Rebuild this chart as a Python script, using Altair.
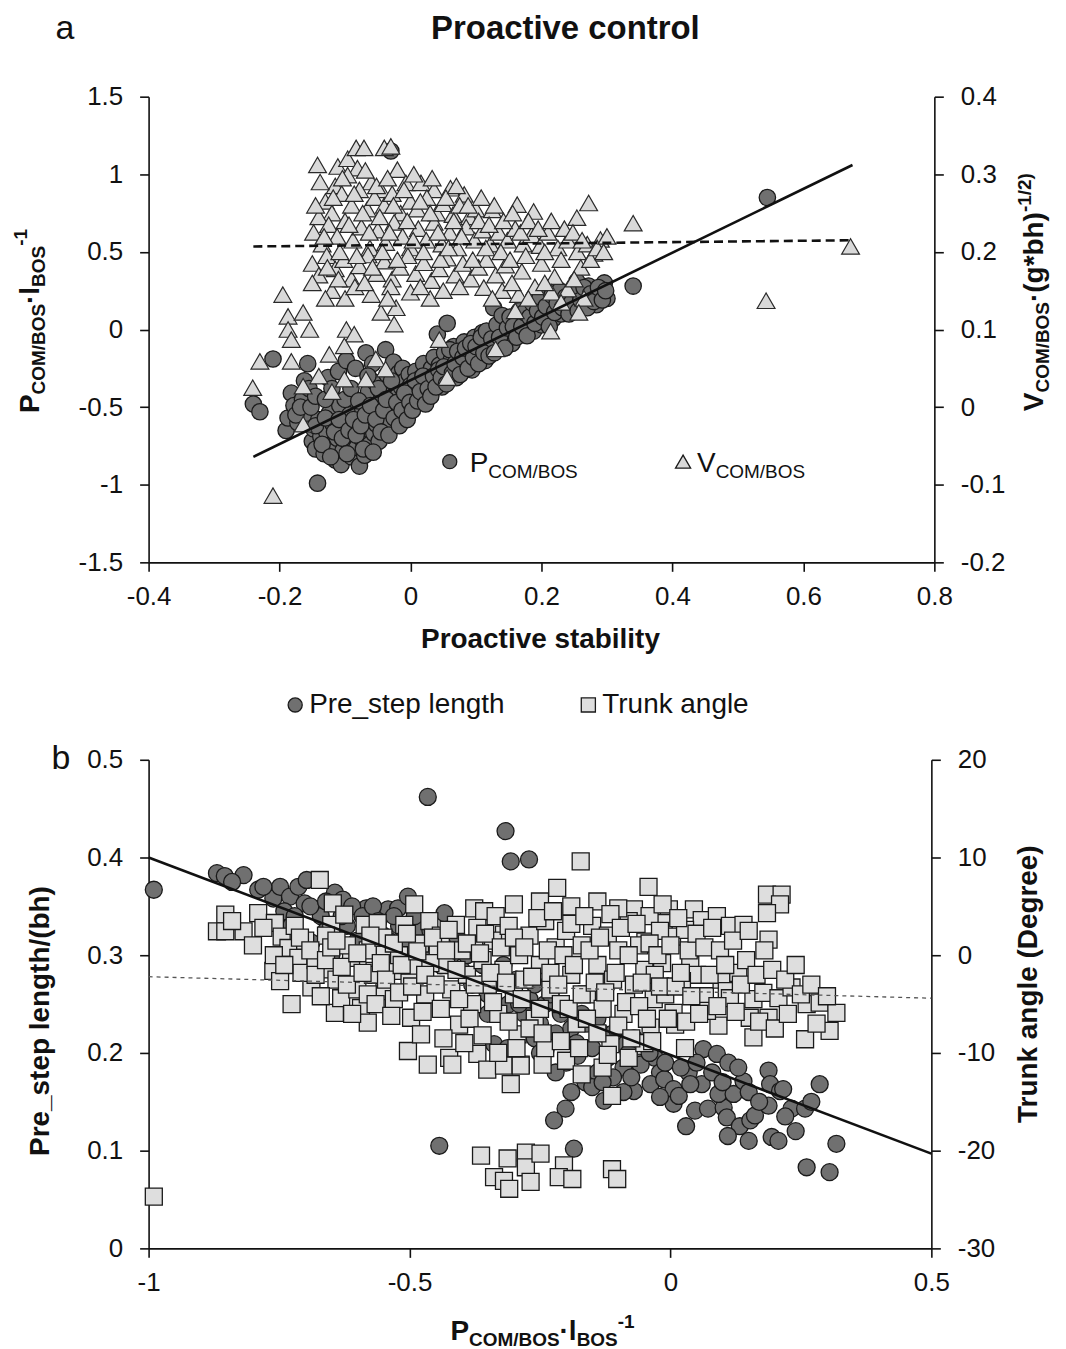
import altair as alt
import pandas as pd

FONT = "Liberation Sans"
INK = "#111111"
CIRC = "#707070"
TRI = "#d9d9d9"
SQR = "#dedede"
EDGE = "#1a1a1a"

# ---------------- data ----------------
title_text = "Proactive control"
a_xticks = [-0.4, -0.2, 0, 0.2, 0.4, 0.6, 0.8]
a_left_ticks = [-1.5, -1, -0.5, 0, 0.5, 1, 1.5]
a_right_ticks = [-0.2, -0.1, 0, 0.1, 0.2, 0.3, 0.4]
b_xticks = [-1, -0.5, 0, 0.5]
b_left_ticks = [0, 0.1, 0.2, 0.3, 0.4, 0.5]
b_right_ticks = [-30, -20, -10, 0, 10, 20]

# panel a: P_COM/BOS (left axis) vs proactive stability
pcom_pts = [
    (-0.24, -0.48), (-0.23, -0.53), (-0.21, -0.19), (-0.19, -0.65), (-0.187, -0.57), (-0.182, -0.41),
    (-0.178, -0.49), (-0.172, -0.60), (-0.165, -0.45), (-0.162, -0.33), (-0.157, -0.22), (-0.155, -0.38),
    (-0.16, -0.54), (-0.15, -0.72), (-0.148, -0.64), (-0.145, -0.77), (-0.142, -0.99), (-0.14, -0.58),
    (-0.137, -0.69), (-0.132, -0.80), (-0.128, -0.66), (-0.126, -0.31), (-0.124, -0.54), (-0.12, -0.74),
    (-0.118, -0.61), (-0.115, -0.84), (-0.112, -0.70), (-0.11, -0.27), (-0.108, -0.49), (-0.106, -0.87),
    (-0.103, -0.78), (-0.1, -0.63), (-0.098, -0.20), (-0.096, -0.72), (-0.093, -0.55), (-0.09, -0.82),
    (-0.088, -0.67), (-0.086, -0.45), (-0.084, -0.25), (-0.082, -0.76), (-0.08, -0.59), (-0.078, -0.88),
    (-0.075, -0.70), (-0.073, -0.51), (-0.07, -0.81), (-0.068, -0.15), (-0.066, -0.64), (-0.064, -0.40),
    (-0.062, -0.74), (-0.06, -0.57), (-0.058, -0.22), (-0.056, -0.67), (-0.054, -0.34), (-0.052, -0.61),
    (-0.05, -0.48), (-0.048, -0.72), (-0.046, -0.55), (-0.044, -0.42), (-0.042, -0.63), (-0.038, -0.13),
    (-0.036, -0.29), (-0.034, -0.51), (-0.032, -0.39), (-0.03, -0.60), (-0.028, -0.46), (-0.026, -0.21),
    (-0.024, -0.35), (-0.022, -0.54), (-0.02, -0.43), (-0.018, -0.28), (-0.016, -0.49), (-0.014, -0.37),
    (-0.012, -0.25), (-0.01, -0.44), (-0.008, -0.33), (-0.006, -0.52), (-0.004, -0.40), (-0.002, -0.29),
    (0.0, -0.36), (0.004, -0.45), (0.008, -0.27), (0.012, -0.38), (0.016, -0.31), (0.02, -0.22),
    (0.024, -0.41), (0.028, -0.33), (0.032, -0.25), (0.036, -0.18), (0.04, -0.30), (0.041, -0.03),
    (0.044, -0.23), (0.048, -0.37), (0.052, -0.15), (0.056, 0.04), (0.058, -0.27), (0.062, -0.20),
    (0.066, -0.11), (0.07, -0.31), (0.074, -0.17), (0.078, -0.24), (0.082, -0.08), (0.086, -0.19),
    (0.09, -0.13), (0.094, -0.26), (0.098, -0.05), (0.102, -0.16), (0.106, -0.10), (0.11, -0.02),
    (0.114, -0.20), (0.118, -0.08), (0.122, -0.13), (0.127, 0.14), (0.13, -0.04), (0.134, -0.11),
    (0.138, 0.02), (0.142, -0.07), (0.146, 0.06), (0.15, -0.02), (0.155, -0.09), (0.16, 0.04),
    (0.164, 0.10), (0.168, -0.03), (0.172, 0.07), (0.176, 0.01), (0.18, 0.12), (0.184, 0.05),
    (0.188, -0.01), (0.192, 0.09), (0.196, 0.15), (0.2, 0.03), (0.205, 0.11), (0.21, 0.18),
    (0.214, 0.27), (0.218, 0.07), (0.222, 0.14), (0.226, 0.21), (0.23, 0.10), (0.235, 0.17),
    (0.24, 0.24), (0.245, 0.12), (0.25, 0.20), (0.254, 0.31), (0.258, 0.15), (0.262, 0.23),
    (0.268, 0.18), (0.272, 0.28), (0.278, 0.21), (0.284, 0.16), (0.29, 0.23), (0.296, 0.30),
    (0.30, 0.20), (0.34, 0.28), (0.545, 0.85), (-0.03, 1.15),
    (-0.175, -0.55), (-0.168, -0.50), (-0.152, -0.50), (-0.145, -0.43), (-0.13, -0.45), (-0.12, -0.38),
    (-0.145, -0.62), (-0.135, -0.74), (-0.13, -0.57), (-0.122, -0.82), (-0.116, -0.66), (-0.109, -0.58),
    (-0.104, -0.70), (-0.1, -0.45), (-0.097, -0.80), (-0.094, -0.65), (-0.091, -0.38), (-0.087, -0.58),
    (-0.083, -0.68), (-0.079, -0.46), (-0.076, -0.62), (-0.072, -0.77), (-0.069, -0.55), (-0.065, -0.30),
    (-0.061, -0.49), (-0.057, -0.79), (-0.053, -0.58), (-0.049, -0.38), (-0.045, -0.66), (-0.041, -0.52),
    (-0.037, -0.45), (-0.033, -0.68), (-0.029, -0.33), (-0.025, -0.57), (-0.021, -0.47), (-0.017, -0.62),
    (-0.013, -0.52), (-0.009, -0.41), (-0.005, -0.58), (-0.001, -0.47), (0.003, -0.52), (0.007, -0.33),
    (0.011, -0.46), (0.015, -0.40), (0.019, -0.30), (0.023, -0.48), (0.027, -0.38), (0.031, -0.43),
    (0.035, -0.30), (0.039, -0.37), (0.043, -0.26), (0.047, -0.31), (0.051, -0.24), (0.055, -0.35),
    (0.06, -0.13), (0.064, -0.28), (0.068, -0.22), (0.072, -0.14), (0.076, -0.29), (0.08, -0.18),
    (0.084, -0.12), (0.088, -0.25), (0.092, -0.09), (0.096, -0.18), (0.1, -0.11), (0.104, -0.22),
    (0.108, -0.05), (0.112, -0.15), (0.116, -0.01), (0.12, -0.17), (0.124, -0.06), (0.128, -0.15),
    (0.132, 0.03), (0.136, -0.05), (0.14, 0.09), (0.144, -0.12), (0.148, 0.01), (0.152, 0.08),
    (0.157, 0.02), (0.162, -0.05), (0.166, 0.12), (0.17, 0.02), (0.174, 0.11), (0.178, -0.04),
    (0.182, 0.08), (0.186, 0.17), (0.19, 0.04), (0.194, 0.12), (0.198, 0.21), (0.202, 0.08),
    (0.207, 0.15), (0.212, 0.02), (0.216, 0.22), (0.22, 0.11), (0.224, 0.17), (0.228, 0.25),
    (0.232, 0.14), (0.237, 0.21), (0.242, 0.10), (0.247, 0.18), (0.252, 0.26), (0.256, 0.12),
    (0.26, 0.19), (0.265, 0.27), (0.27, 0.14), (0.275, 0.23), (0.28, 0.18), (0.287, 0.27),
    (0.293, 0.19), (0.298, 0.25),
]

# panel a: V_COM/BOS (right axis)
vcom_pts = [
    (-0.142, 0.312), (-0.111, 0.31), (-0.096, 0.32), (-0.083, 0.334), (-0.071, 0.334), (-0.081, 0.308),
    (-0.096, 0.299), (-0.040, 0.334), (-0.030, 0.336), (-0.020, 0.306), (-0.007, 0.289), (0.016, 0.289),
    (0.036, 0.28), (0.061, 0.282), (0.082, 0.274), (-0.115, 0.285), (-0.06, 0.29), (-0.045, 0.28),
    (-0.13, 0.265), (-0.12, 0.25), (-0.105, 0.275), (-0.09, 0.26), (-0.078, 0.28), (-0.066, 0.255),
    (-0.055, 0.27), (-0.04, 0.26), (-0.028, 0.275), (-0.015, 0.25), (0.0, 0.265), (0.01, 0.255),
    (0.025, 0.27), (0.04, 0.25), (0.05, 0.262), (0.065, 0.248), (0.075, 0.26), (0.09, 0.245),
    (0.1, 0.255), (0.125, 0.254), (0.163, 0.261), (0.188, 0.252), (0.254, 0.244), (0.272, 0.263),
    (-0.14, 0.245), (-0.148, 0.225), (-0.135, 0.21), (-0.125, 0.235), (-0.112, 0.22), (-0.1, 0.24),
    (-0.088, 0.215), (-0.075, 0.232), (-0.062, 0.205), (-0.05, 0.228), (-0.038, 0.212), (-0.025, 0.238),
    (-0.012, 0.22), (0.0, 0.205), (0.012, 0.23), (0.024, 0.215), (0.036, 0.238), (0.048, 0.21),
    (0.06, 0.225), (0.072, 0.205), (0.085, 0.232), (0.098, 0.215), (0.11, 0.228), (0.122, 0.21),
    (0.135, 0.225), (0.148, 0.215), (0.16, 0.23), (0.172, 0.21), (0.185, 0.222), (0.198, 0.208),
    (0.21, 0.225), (0.225, 0.205), (0.24, 0.215), (0.255, 0.2), (0.27, 0.21), (0.29, 0.216),
    (0.28, 0.198), (0.34, 0.237), (-0.15, 0.185), (-0.14, 0.17), (-0.128, 0.195), (-0.115, 0.178),
    (-0.102, 0.19), (-0.09, 0.165), (-0.078, 0.182), (-0.065, 0.196), (-0.052, 0.172), (-0.04, 0.188),
    (-0.028, 0.165), (-0.016, 0.18), (-0.004, 0.195), (0.008, 0.172), (0.02, 0.186), (0.032, 0.163),
    (0.044, 0.178), (0.056, 0.192), (0.068, 0.17), (0.08, 0.185), (0.092, 0.165), (0.104, 0.18),
    (0.116, 0.19), (0.13, 0.17), (0.145, 0.183), (0.17, 0.175), (0.2, 0.185), (0.22, 0.168),
    (0.26, 0.18), (0.275, 0.19), (-0.12, 0.15), (-0.1, 0.14), (-0.085, 0.155), (-0.06, 0.145),
    (-0.03, 0.155), (0.0, 0.148), (0.03, 0.14), (0.112, 0.154), (0.14, 0.15), (0.165, 0.145),
    (0.19, 0.155), (0.215, 0.148), (0.24, 0.152), (0.265, 0.14), (-0.022, 0.128), (-0.045, 0.122),
    (-0.195, 0.145), (-0.187, 0.117), (-0.164, 0.122), (-0.187, 0.10), (-0.182, 0.087), (-0.154, 0.10),
    (-0.230, 0.059), (-0.182, 0.059), (-0.241, 0.025), (-0.164, 0.027), (-0.124, 0.068), (-0.098, 0.10),
    (-0.086, 0.094), (-0.101, 0.079), (-0.101, 0.036), (-0.053, 0.062), (-0.038, 0.049), (-0.068, 0.036),
    (0.044, 0.087), (0.056, 0.038), (-0.025, 0.107), (0.130, 0.075), (0.160, 0.124), (0.214, 0.098),
    (0.257, 0.122), (-0.164, -0.022), (-0.21, -0.114), (-0.14, 0.04), (-0.12, 0.02),
    (0.543, 0.137), (0.672, 0.207),
    (-0.145, 0.26), (-0.138, 0.29), (-0.132, 0.22), (-0.127, 0.18), (-0.118, 0.27), (-0.108, 0.2),
    (-0.104, 0.295), (-0.094, 0.235), (-0.086, 0.275), (-0.082, 0.195), (-0.073, 0.25), (-0.069, 0.305),
    (-0.063, 0.225), (-0.058, 0.18), (-0.052, 0.285), (-0.047, 0.245), (-0.043, 0.2), (-0.035, 0.295),
    (-0.032, 0.225), (-0.026, 0.26), (-0.02, 0.19), (-0.01, 0.28), (-0.005, 0.24), (0.004, 0.215),
    (0.005, 0.3), (0.015, 0.265), (0.02, 0.2), (0.03, 0.25), (0.033, 0.295), (0.042, 0.225),
    (0.046, 0.19), (0.054, 0.27), (0.058, 0.205), (0.066, 0.24), (0.07, 0.285), (0.078, 0.22),
    (0.088, 0.26), (0.095, 0.19), (0.104, 0.24), (0.108, 0.27), (0.115, 0.205), (0.12, 0.235),
    (0.128, 0.26), (0.138, 0.2), (0.142, 0.24), (0.152, 0.19), (0.156, 0.25), (0.168, 0.225),
    (0.176, 0.195), (0.18, 0.24), (0.195, 0.23), (0.205, 0.2), (0.215, 0.24), (0.23, 0.19),
    (0.235, 0.23), (0.248, 0.225), (0.262, 0.215), (0.285, 0.205), (0.3, 0.22), (0.295, 0.2),
    (-0.11, 0.165), (-0.07, 0.16), (-0.035, 0.14), (0.015, 0.155), (0.05, 0.15), (0.075, 0.155),
    (0.125, 0.14), (0.155, 0.16), (0.18, 0.14), (0.205, 0.16), (0.23, 0.135), (0.25, 0.165),
    (-0.13, 0.14), (-0.15, 0.16),
]

pcom_fit_x = [-0.24, 0.675]
pcom_fit_y = [-0.82, 1.06]
vcom_fit_x = [-0.24, 0.675]
vcom_fit_y = [0.207, 0.215]

# panel b: pre-step length (left axis) vs P_COM/BOS
step_pts = [
    (-0.99, 0.367), (-0.869, 0.384), (-0.854, 0.381), (-0.818, 0.382), (-0.79, 0.367), (-0.761, 0.358),
    (-0.748, 0.370), (-0.729, 0.360), (-0.713, 0.370), (-0.697, 0.377), (-0.701, 0.353), (-0.726, 0.331),
    (-0.643, 0.364), (-0.628, 0.357), (-0.583, 0.348), (-0.541, 0.347), (-0.522, 0.348), (-0.503, 0.360),
    (-0.433, 0.343), (-0.465, 0.462), (-0.316, 0.427), (-0.306, 0.396), (-0.271, 0.398), (-0.443, 0.105),
    (-0.338, 0.209), (-0.309, 0.204), (-0.643, 0.311), (-0.688, 0.313), (-0.650, 0.300),
    (-0.67, 0.34), (-0.66, 0.325), (-0.62, 0.33), (-0.60, 0.315), (-0.58, 0.33), (-0.56, 0.305),
    (-0.55, 0.32), (-0.52, 0.33), (-0.50, 0.31), (-0.48, 0.325), (-0.47, 0.30), (-0.45, 0.315),
    (-0.44, 0.29), (-0.42, 0.30), (-0.40, 0.285), (-0.38, 0.27), (-0.36, 0.29), (-0.35, 0.26),
    (-0.33, 0.275), (-0.31, 0.25), (-0.30, 0.265), (-0.28, 0.24), (-0.27, 0.255), (-0.25, 0.23),
    (-0.24, 0.25), (-0.22, 0.22), (-0.21, 0.24), (-0.19, 0.225), (-0.18, 0.21), (-0.16, 0.23),
    (-0.15, 0.205), (-0.13, 0.22), (-0.12, 0.195), (-0.10, 0.21), (-0.09, 0.185), (-0.08, 0.2),
    (-0.06, 0.19), (-0.05, 0.21), (-0.03, 0.195), (-0.02, 0.18),
    (-0.239, 0.204), (-0.201, 0.143), (-0.223, 0.131), (-0.185, 0.102), (-0.163, 0.170), (-0.178, 0.197),
    (-0.127, 0.151), (-0.070, 0.161), (-0.038, 0.168), (-0.057, 0.188), (-0.012, 0.173), (0.006, 0.148),
    (0.006, 0.163), (0.035, 0.180), (0.047, 0.141), (0.060, 0.168), (0.072, 0.143), (0.063, 0.204),
    (0.089, 0.199), (0.111, 0.190), (0.102, 0.144), (0.108, 0.134), (0.092, 0.158), (0.121, 0.158),
    (0.140, 0.171), (0.133, 0.125), (0.153, 0.131), (0.162, 0.136), (0.188, 0.182), (0.191, 0.168),
    (0.210, 0.161), (0.216, 0.163), (0.188, 0.146), (0.194, 0.114), (0.207, 0.110), (0.232, 0.143),
    (0.258, 0.143), (0.286, 0.168), (0.261, 0.083), (0.318, 0.107), (0.305, 0.078), (0.016, 0.156),
    (0.038, 0.168), (-0.312, 0.205), (-0.26, 0.215), (-0.2, 0.19), (-0.14, 0.18), (-0.11, 0.175),
    (-0.09, 0.16), (-0.15, 0.165),
    (-0.84, 0.375), (-0.78, 0.37), (-0.74, 0.345), (-0.72, 0.34), (-0.69, 0.35), (-0.66, 0.355),
    (-0.63, 0.34), (-0.61, 0.35), (-0.59, 0.34), (-0.57, 0.35), (-0.56, 0.335), (-0.54, 0.315),
    (-0.53, 0.34), (-0.51, 0.325), (-0.49, 0.34), (-0.46, 0.325), (-0.43, 0.31), (-0.41, 0.32),
    (-0.39, 0.30), (-0.37, 0.305), (-0.345, 0.28), (-0.32, 0.29), (-0.295, 0.275), (-0.29, 0.25),
    (-0.26, 0.27), (-0.23, 0.26), (-0.2, 0.245), (-0.17, 0.24), (-0.14, 0.235), (-0.11, 0.22),
    (-0.07, 0.215), (-0.04, 0.2), (-0.01, 0.19), (0.02, 0.185), (0.05, 0.19), (0.08, 0.18),
    (0.1, 0.17), (0.13, 0.185), (0.15, 0.16), (0.17, 0.15), (0.22, 0.135), (0.24, 0.12),
    (0.27, 0.15), (-0.35, 0.24), (-0.25, 0.2), (-0.22, 0.18), (-0.19, 0.16), (-0.13, 0.17),
    (-0.075, 0.175), (-0.02, 0.155), (0.03, 0.125), (0.11, 0.115), (0.15, 0.11),
]

# panel b: trunk angle (right axis)
trunk_pts = [
    (-0.99, -24.7), (-0.853, 4.15), (-0.869, 2.45), (-0.853, 2.45), (-0.818, 2.45), (-0.790, 4.3),
    (-0.758, 3.3), (-0.745, 1.9), (-0.761, -1.6), (-0.748, -2.65), (-0.726, -5.0), (-0.732, 0.74),
    (-0.713, -0.27), (-0.688, -3.3), (-0.672, 7.7), (-0.707, -1.8), (-0.647, 5.3), (-0.650, 3.1),
    (-0.625, 4.15), (-0.656, -1.45), (-0.643, -5.9), (-0.631, -4.4), (-0.612, -0.27), (-0.593, -5.4),
    (-0.580, -6.9), (-0.586, 3.1), (-0.561, 3.3), (-0.567, -1.6), (-0.548, -3.67), (-0.548, 0.07),
    (-0.526, -1.6), (-0.510, 3.1), (-0.491, 5.2), (-0.491, -1.3), (-0.503, -9.8), (-0.497, -6.4),
    (-0.478, -8.1), (-0.465, -11.2), (-0.462, 3.5), (-0.446, 0.74), (-0.424, -10.5), (-0.418, -11.2),
    (-0.411, 3.1), (-0.405, -7.1), (-0.376, 4.8), (-0.357, 4.5), (-0.335, 4.0), (-0.376, 1.1),
    (-0.370, -10.1), (-0.351, -11.7), (-0.319, -11.3), (-0.306, -13.2), (-0.293, -8.1), (-0.319, 2.1),
    (-0.287, -11.2),
    (-0.363, -20.5), (-0.338, -22.7), (-0.319, -23.1), (-0.312, -20.8), (-0.309, -23.9), (-0.277, -20.2),
    (-0.277, -21.7), (-0.268, -23.2), (-0.249, -20.3), (-0.204, -21.5), (-0.214, -22.7), (-0.188, -22.9),
    (-0.112, -21.9), (-0.102, -22.9),
    (-0.172, 9.6), (-0.217, 6.9), (-0.042, 7.0), (-0.070, 4.7), (-0.003, 4.7), (0.045, 4.7),
    (0.060, 3.6), (0.089, 4.0), (0.114, 3.0), (0.140, 3.1), (0.185, 6.2), (0.213, 6.2),
    (0.210, 5.2), (0.185, 4.3), (0.188, 1.6), (-0.013, 3.3), (0.003, 1.9), (0.028, 2.6),
    (-0.048, 1.4), (-0.016, -0.8), (0.038, -1.0), (0.051, -2.0), (0.022, -2.65), (0.066, -4.2),
    (0.098, -2.5), (0.130, -1.8), (0.108, -3.67), (0.114, -4.4), (0.159, -4.5), (0.178, -3.85),
    (0.207, -4.4), (0.232, -3.3), (0.261, -5.0), (0.286, -4.85), (0.318, -5.9), (0.305, -7.75),
    (0.258, -8.6), (0.159, -8.4), (0.092, -7.2), (0.152, -6.4), (0.188, -6.4), (0.070, -5.7),
    (0.006, -5.9), (-0.032, -4.5), (0.009, -7.1), (-0.038, -7.4), (-0.115, -9.1), (-0.112, -14.4),
    (-0.245, -11.2), (-0.287, -11.3), (0.028, -9.5),
    (-0.44, 2.0), (-0.43, -1.0), (-0.42, -3.5), (-0.40, 0.5), (-0.39, -2.0), (-0.38, -5.0),
    (-0.37, 2.8), (-0.36, -0.5), (-0.35, -3.0), (-0.34, 1.5), (-0.33, -6.0), (-0.32, -1.5),
    (-0.31, 3.0), (-0.30, -4.0), (-0.29, 0.0), (-0.28, -2.5), (-0.27, 2.0), (-0.26, -6.5),
    (-0.25, -1.0), (-0.24, 3.5), (-0.23, -3.5), (-0.22, 0.8), (-0.21, -5.0), (-0.20, 2.5),
    (-0.19, -2.0), (-0.18, -7.0), (-0.17, 1.0), (-0.16, -4.0), (-0.15, 3.0), (-0.14, -1.0),
    (-0.13, -5.5), (-0.12, 2.0), (-0.11, -2.5), (-0.10, 0.5), (-0.09, -6.0), (-0.08, 3.5),
    (-0.07, -3.0), (-0.06, 1.0), (-0.05, -1.5), (-0.04, 4.0), (-0.03, -2.0), (-0.02, 2.5),
    (-0.01, -4.0),
    (-0.70, 1.5), (-0.68, -0.5), (-0.66, 2.0), (-0.64, -2.5), (-0.62, 1.0), (-0.60, -3.5),
    (-0.58, 0.5), (-0.57, -2.0), (-0.55, 1.8), (-0.53, -4.5), (-0.52, 0.0), (-0.50, -2.8),
    (-0.48, 1.2), (-0.47, -4.0), (-0.46, -0.8),
    (-0.25, 5.5), (-0.19, 5.0), (-0.14, 5.5), (-0.10, 4.8), (-0.30, 5.2),
    (-0.08, -10.5), (-0.05, -9.0), (-0.13, -11.5), (-0.20, -10.8), (-0.17, -12.2), (-0.24, -9.5),
    (-0.84, 3.5), (-0.80, 1.0), (-0.78, 2.8), (-0.76, 0.0), (-0.74, -1.0), (-0.72, 3.0),
    (-0.71, 1.8), (-0.69, 0.5), (-0.68, -2.0), (-0.67, -4.2), (-0.66, -0.5), (-0.65, 0.8),
    (-0.64, 1.5), (-0.63, -1.2), (-0.62, -3.0), (-0.61, -6.0), (-0.60, 0.2), (-0.59, -1.8),
    (-0.58, -4.0), (-0.575, 2.0), (-0.565, -5.0), (-0.555, -0.8), (-0.545, -2.5), (-0.535, -6.2),
    (-0.53, 1.2), (-0.52, -3.8), (-0.515, -1.0), (-0.505, 2.2), (-0.495, -3.2), (-0.485, 0.4),
    (-0.475, -5.8), (-0.47, -2.0), (-0.455, 1.8), (-0.45, -3.0), (-0.44, -5.5), (-0.435, -8.5),
    (-0.43, 0.5), (-0.425, 2.6), (-0.41, -1.5), (-0.405, -4.5), (-0.395, -9.0), (-0.39, 1.2),
    (-0.385, -6.5), (-0.375, -3.0), (-0.365, 0.2), (-0.36, -8.2), (-0.355, 2.2), (-0.345, -1.8),
    (-0.34, -4.8), (-0.33, -10.0), (-0.325, 0.8), (-0.315, -2.8), (-0.31, -6.8), (-0.30, 1.8),
    (-0.295, -9.5), (-0.285, -4.5), (-0.28, 0.8), (-0.27, -7.5), (-0.265, -2.2), (-0.255, 3.8),
    (-0.25, -5.5), (-0.245, -8.0), (-0.235, 0.5), (-0.23, -1.8), (-0.225, 4.5), (-0.215, -3.0),
    (-0.21, -8.8), (-0.205, 0.0), (-0.195, -5.5), (-0.19, 3.2), (-0.185, -1.0), (-0.175, -9.5),
    (-0.17, -4.0), (-0.165, 4.0), (-0.16, -6.5), (-0.155, 0.5), (-0.145, -2.8), (-0.14, -8.0),
    (-0.135, 1.8), (-0.125, -3.8), (-0.12, -10.2), (-0.115, 4.2), (-0.105, -1.8), (-0.10, -7.2),
    (-0.095, 2.8), (-0.085, -4.8), (-0.08, 0.0), (-0.075, -8.5), (-0.065, 3.2), (-0.06, -5.2),
    (-0.055, -2.8), (-0.045, -6.5), (-0.04, 1.2), (-0.035, -8.8), (-0.025, 0.0), (-0.02, -3.2),
    (-0.015, 5.2), (-0.005, -6.5), (0.0, 1.0), (0.01, -3.2), (0.015, 3.8), (0.02, -1.8),
    (0.03, -6.8), (0.035, 0.5), (0.04, -4.2), (0.05, 2.2), (0.055, -6.0), (0.065, 0.8),
    (0.075, -2.0), (0.08, 2.8), (0.09, -5.2), (0.095, 0.5), (0.105, -1.0), (0.12, 1.5),
    (0.125, -5.8), (0.135, -3.0), (0.145, -0.5), (0.15, 2.5), (0.165, -2.0), (0.17, -6.8),
    (0.18, 0.5), (0.195, -1.5), (0.2, -7.5), (0.22, -2.5), (0.225, -6.0), (0.24, -1.0),
    (0.25, -4.0), (0.27, -3.0), (0.28, -7.0), (0.3, -4.2),
]

step_fit_x = [-1.0, 0.5]
step_fit_y = [0.40, 0.097]
trunk_fit_x = [-1.0, 0.5]
trunk_fit_y = [-2.2, -4.4]

# ---------------- helpers ----------------
W_REG = {' ': 278, 'P': 667, 'V': 667, 'C': 722, 'O': 778, 'M': 833, 'B': 667, 'S': 667, '/': 278,
         '·': 278, 'l': 222, '-': 333, '1': 556, '2': 556, '(': 333, ')': 333, 'g': 556, '*': 389,
         'b': 556, 'h': 556}
W_BOLD = {' ': 278, 'P': 667, 'V': 667, 'C': 722, 'O': 778, 'M': 833, 'B': 722, 'S': 667, '/': 278,
          '·': 333, 'l': 278, '-': 333, '1': 556, '2': 556, '(': 333, ')': 333, 'g': 611, '*': 389,
          'b': 611, 'h': 611}

ONE = pd.DataFrame({"k": [0]})


def tw(s, size, bold):
    tab = W_BOLD if bold else W_REG
    return sum(tab.get(ch, 556) for ch in s) * size / 1000.0


def rich(parts, x, y, bold=False, angle=0, anchor="center"):
    total = sum(tw(t, s, bold) for t, s, _ in parts)
    off = -total / 2.0 if anchor == "center" else 0.0
    out = []
    for t, s, shift in parts:
        kw = dict(text=t, font=FONT, fontSize=s, fontWeight="bold" if bold else "normal",
                  color=INK, align="left", baseline="alphabetic", dx=off, dy=shift)
        if angle:
            kw["angle"] = angle
        out.append(alt.Chart(ONE).mark_text(**kw).encode(x=alt.value(x), y=alt.value(y)))
        off += tw(t, s, bold)
    return out


def label(text, x, y, size, bold=False, angle=0, align="center", baseline="middle"):
    kw = dict(text=text, font=FONT, fontSize=size, fontWeight="bold" if bold else "normal",
              color=INK, align=align, baseline=baseline)
    if angle:
        kw["angle"] = angle
    return alt.Chart(ONE).mark_text(**kw).encode(x=alt.value(x), y=alt.value(y))


def sym(x, y, shape, size, fill):
    return alt.Chart(ONE).mark_point(shape=shape, size=size, filled=True, fill=fill, stroke=EDGE,
                                     strokeWidth=1.3, opacity=1).encode(x=alt.value(x), y=alt.value(y))


def axis(values, orient, pad):
    return alt.Axis(values=values, orient=orient, labelExpr="'' + datum.value", title=None, grid=False,
                    domainColor=INK, domainWidth=1.6, tickColor=INK, tickWidth=1.6, tickSize=9,
                    labelFont=FONT, labelFontSize=26, labelColor=INK, labelPadding=pad,
                    labelFlush=False, labelOverlap=False)


def pcom_parts(big, small):
    return [("P", big, 0), ("COM/BOS", small, 6), ("·l", big, 0), ("BOS", small, 6), ("-1", small, -12)]


# ---------------- panel a ----------------
pa_df = pd.DataFrame(pcom_pts, columns=["x", "p"])
va_df = pd.DataFrame(vcom_pts, columns=["x", "v"])
fpa_df = pd.DataFrame({"x": pcom_fit_x, "p": pcom_fit_y})
fva_df = pd.DataFrame({"x": vcom_fit_x, "v": vcom_fit_y})

xa = alt.X("x:Q", scale=alt.Scale(domain=[-0.4, 0.8], nice=False, zero=False), axis=axis(a_xticks, "bottom", 12))
ya_l = alt.Scale(domain=[-1.5, 1.5], nice=False, zero=False)
ya_r = alt.Scale(domain=[-0.2, 0.4], nice=False, zero=False)

a_circ = alt.Chart(pa_df).mark_point(shape="circle", filled=True, size=270, fill=CIRC, stroke=EDGE,
                                     strokeWidth=1.3, opacity=1).encode(
    x=xa, y=alt.Y("p:Q", scale=ya_l, axis=axis(a_left_ticks, "left", 17)))
a_tri = alt.Chart(va_df).mark_point(shape="triangle-up", filled=True, size=320, fill=TRI, stroke="#2a2a2a",
                                    strokeWidth=1.2, opacity=1).encode(
    x=xa, y=alt.Y("v:Q", scale=ya_r, axis=axis(a_right_ticks, "right", 17)))
a_fit = alt.Chart(fpa_df).mark_line(color=INK, strokeWidth=2.6).encode(
    x=xa, y=alt.Y("p:Q", scale=ya_l, axis=None))
a_fitv = alt.Chart(fva_df).mark_line(color=INK, strokeWidth=2.6, strokeDash=[9, 5]).encode(
    x=xa, y=alt.Y("v:Q", scale=ya_r, axis=None))

a_text = [
    label(title_text, 418, -68, 33, bold=True),
    label("a", -84, -68, 34),
    label("Proactive stability", 393, 545, 28, bold=True),
    sym(302, 366, "circle", 200, CIRC),
    sym(536, 366, "triangle-up", 230, TRI),
]
a_text += rich(pcom_parts(28, 19), -110, 225, bold=True, angle=270)
a_text += rich([("V", 28, 0), ("COM/BOS", 19, 6), ("·(g*bh)", 28, 0), ("-1/2)", 19, -12)],
               897, 196, bold=True, angle=270)
a_text += rich([("P", 28, 0), ("COM/BOS", 19, 6)], 322, 376, anchor="left")
a_text += rich([("V", 28, 0), ("COM/BOS", 19, 6)], 550, 376, anchor="left")

panel_a = alt.layer(a_circ, a_tri, a_fit, a_fitv, *a_text).resolve_scale(y="independent").properties(
    width=788, height=467)

# ---------------- panel b ----------------
sb_df = pd.DataFrame(step_pts, columns=["x", "s"])
tb_df = pd.DataFrame(trunk_pts, columns=["x", "t"])
fsb_df = pd.DataFrame({"x": step_fit_x, "s": step_fit_y})
ftb_df = pd.DataFrame({"x": trunk_fit_x, "t": trunk_fit_y})

xb = alt.X("x:Q", scale=alt.Scale(domain=[-1, 0.5], nice=False, zero=False), axis=axis(b_xticks, "bottom", 12))
yb_l = alt.Scale(domain=[0, 0.5], nice=False, zero=False)
yb_r = alt.Scale(domain=[-30, 20], nice=False, zero=False)

b_circ = alt.Chart(sb_df).mark_point(shape="circle", filled=True, size=290, fill=CIRC, stroke=EDGE,
                                     strokeWidth=1.3, opacity=1).encode(
    x=xb, y=alt.Y("s:Q", scale=yb_l, axis=axis(b_left_ticks, "left", 17)))
b_sq = alt.Chart(tb_df).mark_point(shape="square", filled=True, size=290, fill=SQR, stroke=EDGE,
                                   strokeWidth=1.3, opacity=1).encode(
    x=xb, y=alt.Y("t:Q", scale=yb_r, axis=axis(b_right_ticks, "right", 17)))
b_fit = alt.Chart(fsb_df).mark_line(color=INK, strokeWidth=2.6).encode(
    x=xb, y=alt.Y("s:Q", scale=yb_l, axis=None))
b_fitt = alt.Chart(ftb_df).mark_line(color="#555555", strokeWidth=1.3, strokeDash=[4, 4]).encode(
    x=xb, y=alt.Y("t:Q", scale=yb_r, axis=None))

b_text = [
    label("b", -88, -1, 34),
    sym(147, -55, "circle", 200, CIRC),
    label("Pre_step length", 161, -55, 28, align="left"),
    sym(441, -55, "square", 200, SQR),
    label("Trunk angle", 455, -55, 28, align="left"),
    label("Pre_step length/(bh)", -108, 262, 28, bold=True, angle=270),
    label("Trunk angle (Degree)", 883, 225, 28, bold=True, angle=270),
]
b_text += rich(pcom_parts(28, 19), 395, 582, bold=True)

panel_b = alt.layer(b_circ, b_sq, b_fit, b_fitt, *b_text).resolve_scale(y="independent").properties(
    width=785, height=490)

chart = alt.vconcat(panel_a, panel_b, spacing=37).properties(
    padding={"left": 4, "top": 2, "right": 5, "bottom": 5}).configure_view(stroke=None)

chart.save("out.html", embed_options={"renderer": "svg", "actions": False})
